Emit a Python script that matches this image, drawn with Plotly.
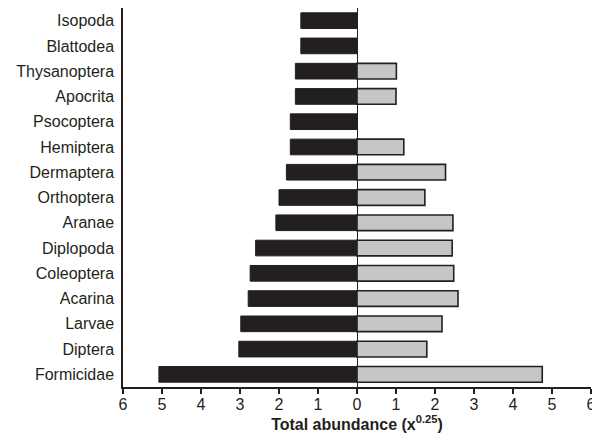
import plotly.graph_objects as go

categories = ["Isopoda", "Blattodea", "Thysanoptera", "Apocrita", "Psocoptera",
              "Hemiptera", "Dermaptera", "Orthoptera", "Aranae", "Diplopoda",
              "Coleoptera", "Acarina", "Larvae", "Diptera", "Formicidae"]
left_values = [1.44, 1.44, 1.58, 1.58, 1.71, 1.71, 1.81, 2.0, 2.08, 2.6,
               2.74, 2.79, 2.98, 3.03, 5.08]
right_values = [0, 0, 1.01, 1.0, 0, 1.2, 2.27, 1.74, 2.46, 2.44,
                2.48, 2.59, 2.18, 1.79, 4.75]
tick_vals = [-6, -5, -4, -3, -2, -1, 0, 1, 2, 3, 4, 5, 6]
tick_text = ["6", "5", "4", "3", "2", "1", "0", "1", "2", "3", "4", "5", "6"]

fig = go.Figure()
fig.add_trace(go.Bar(
    y=categories, x=[-v for v in left_values], orientation="h",
    marker=dict(color="#231f20", line=dict(color="#231f20", width=1)),
    showlegend=False,
))
fig.add_trace(go.Bar(
    y=categories, x=right_values, orientation="h",
    marker=dict(color="#c6c6c6", line=dict(color="#231f20", width=1.6)),
    showlegend=False,
))

font_family = "Liberation Sans, Arial, sans-serif"
# the page body adds an 8px margin, so the figure is sized 592x427
fig.update_layout(
    width=592, height=427,
    margin=dict(l=115, r=9, t=0, b=48),
    paper_bgcolor="white", plot_bgcolor="white",
    barmode="relative", bargap=0.38,
    font=dict(family=font_family, size=16, color="#231f20"),
    xaxis=dict(
        range=[-6, 6], tickvals=tick_vals, ticktext=tick_text,
        automargin=False,
        showgrid=False, zeroline=True, zerolinecolor="#231f20", zerolinewidth=1.2,
        showline=True, linecolor="#231f20", linewidth=1.5,
        ticks="outside", ticklen=5, tickwidth=1.5, tickcolor="#231f20",
        tickfont=dict(size=16), ticklabelstandoff=-3,
        title=dict(text="<b>Total abundance (x<sup>0.25</sup>)</b>",
                   font=dict(size=16), standoff=2),
    ),
    yaxis=dict(
        categoryorder="array", categoryarray=categories, autorange="reversed",
        automargin=False,
        showgrid=False, zeroline=False,
        showline=True, linecolor="#231f20", linewidth=1.5,
        ticks="", tickfont=dict(size=16), ticklabelstandoff=4,
    ),
)

fig.write_html("out.html")
